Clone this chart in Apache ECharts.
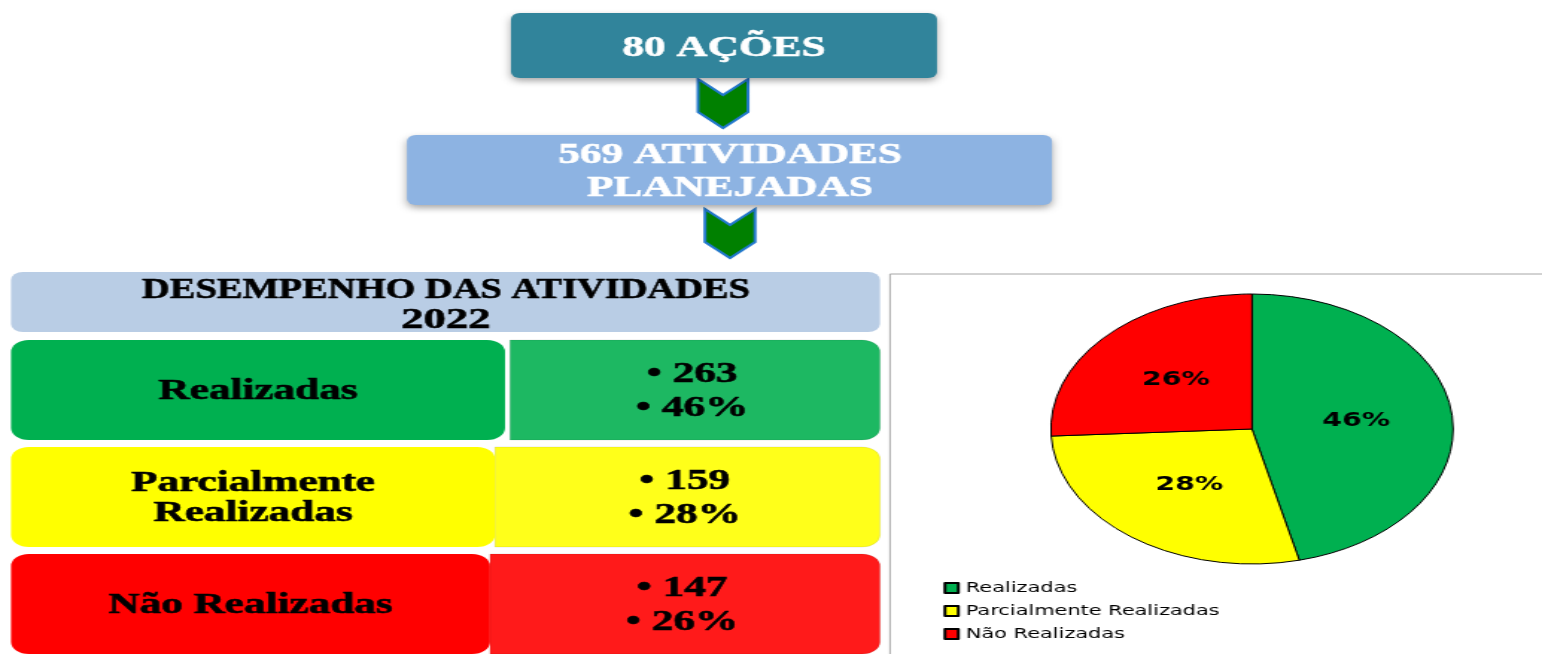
<!DOCTYPE html>
<html>
<head>
    <meta charset="UTF-8">
    <title>Desempenho das Atividades 2022</title>
    <script type="text/javascript" src="https://cdn.jsdelivr.net/npm/echarts@6/dist/echarts.min.js"></script>
</head>
<body style="margin: 0;overflow: hidden;background: #fff;">
<!-- the whole slide is stretched horizontally, like the original picture -->
<div id="main" style="width: 1035px;height: 654px;transform: scaleX(1.48986);transform-origin: 0 0;"></div>
<script type="text/javascript">
    var totalActions = 80;
    var totalActivities = 569;
    var year = 2022;
    var categories = ['Realizadas', 'Parcialmente Realizadas', 'Não Realizadas'];
    var rowLabels = ['Realizadas', 'Parcialmente\nRealizadas', 'Não Realizadas'];
    var counts = [263, 159, 147];
    var percents = [46, 28, 26];

    var S = 1542 / 1035;
    function px(x) {
        return x / S;
    }

    var serif = "'Liberation Serif', serif";
    var colors = ['#00B050', '#FFFF00', '#FF0000'];
    var lightColors = ['#1DB862', '#FFFF1A', '#FF1A1A'];
    var rowTop = [340, 447, 554];
    var leftEnd = [505, 495, 490];
    var rightStart = [510, 495, 490];

    function chevron(x, y) {
        return {
            type: 'polygon',
            shape: {
                points: [[px(x), y], [px(x + 25), y + 16], [px(x + 50), y], [px(x + 50), y + 33],
                    [px(x + 25), y + 49], [px(x), y + 33]]
            },
            style: {fill: '#008000', stroke: '#2278CC', lineWidth: 2}
        };
    }

    function box(x1, y1, x2, y2, fill, r, shadow) {
        var el = {
            type: 'rect',
            shape: {x: px(x1), y: y1, width: px(x2) - px(x1), height: y2 - y1, r: r},
            style: {fill: fill}
        };
        if (shadow) {
            el.style.shadowBlur = 6;
            el.style.shadowOffsetY = 3;
            el.style.shadowColor = 'rgba(0,0,0,0.35)';
        }
        return el;
    }

    // serif labels sit ~2px low of the em box centre in the original
    function label(x, y, text, color, size, lineHeight, scaleX) {
        return {
            type: 'text',
            x: px(x),
            y: y + 2,
            scaleX: scaleX || 1,
            style: {
                text: text,
                fill: color,
                stroke: color,
                lineWidth: 0.6,
                fontFamily: serif,
                fontWeight: 'bold',
                fontSize: size,
                lineHeight: lineHeight,
                align: 'center',
                verticalAlign: 'middle'
            }
        };
    }

    var elements = [
        chevron(698, 79),
        chevron(705, 209),
        box(511, 13, 937, 78, '#31849B', 6, true),
        label(724, 47, totalActions + ' AÇÕES', '#fff', 29, 33),
        box(407, 135, 1052, 205, '#8DB3E2', 6, true),
        label(730, 170, totalActivities + ' ATIVIDADES\nPLANEJADAS', '#fff', 29, 33),
        box(11, 272, 880, 332, '#B9CDE5', 8, false),
        label(446, 288, 'DESEMPENHO DAS ATIVIDADES', '#000', 30, 30, 0.86),
        label(446, 318, String(year), '#000', 30, 30),
        {
            type: 'rect',
            shape: {x: px(890), y: 274, width: px(1542) - px(890) + 10, height: 400},
            style: {fill: 'none', stroke: '#A6A6A6', lineWidth: 1}
        }
    ];

    for (var i = 0; i < categories.length; i++) {
        var rowY = rowTop[i];
        var right = box(rightStart[i], rowY, 880, rowY + 100, lightColors[i], [0, 12, 12, 0], false);
        right.style.stroke = 'rgba(0,0,0,0.08)';
        elements.push(right);
        elements.push(box(11, rowY, leftEnd[i], rowY + 100, colors[i], 12, false));
        elements.push(label((11 + leftEnd[i]) / 2, rowY + 50, rowLabels[i], '#000', 29, 30));
        elements.push(label((rightStart[i] + 880) / 2 - 3, rowY + 50,
            '• ' + counts[i] + '\n• ' + percents[i] + '%', '#000', 29, 34));
    }

    var chart = echarts.init(document.getElementById('main'));
    chart.setOption({
        animation: false,
        backgroundColor: '#fff',
        graphic: {elements: elements},
        legend: {
            orient: 'vertical',
            left: px(936),
            top: 576,
            itemWidth: 9,
            itemHeight: 10,
            itemGap: 9,
            icon: 'rect',
            textStyle: {fontFamily: 'DejaVu Sans', fontSize: 14, color: '#000'},
            data: categories
        },
        series: [{
            type: 'pie',
            center: [px(1252), 429],
            radius: 135,
            startAngle: 90,
            clockwise: true,
            silent: true,
            itemStyle: {borderColor: '#000', borderWidth: 1},
            label: {
                position: 'inside',
                formatter: function (p) {
                    return Math.round(p.percent) + '%';
                },
                fontFamily: 'DejaVu Sans',
                fontWeight: 'bold',
                fontSize: 19,
                color: '#000',
                textBorderWidth: 0
            },
            labelLine: {show: false},
            data: categories.map(function (name, k) {
                return {name: name, value: counts[k], itemStyle: {color: colors[k]}};
            })
        }]
    });
</script>
</body>
</html>
